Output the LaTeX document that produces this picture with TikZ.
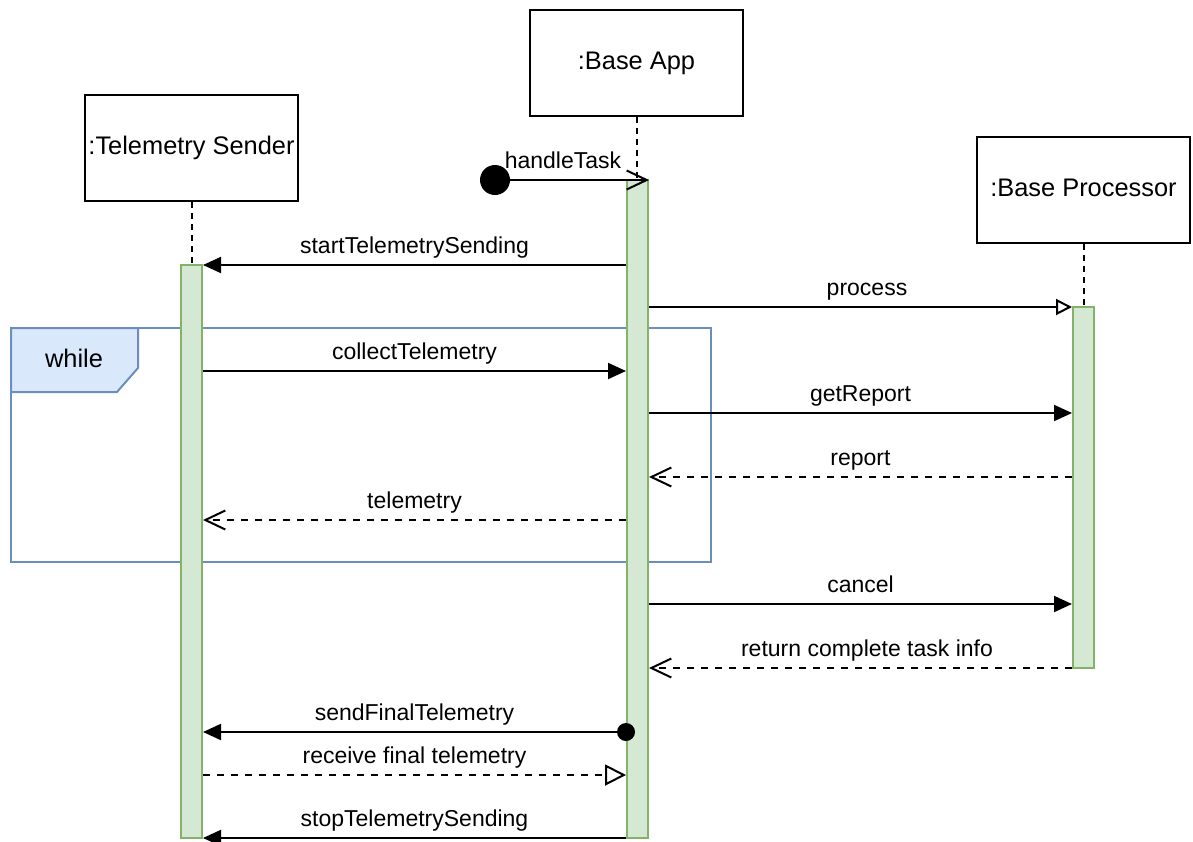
\documentclass[tikz,border=0pt]{standalone}
\usepackage{fontspec}
\setmainfont{Liberation Sans}
\usetikzlibrary{arrows.meta}
\definecolor{barfill}{HTML}{D5E8D4}
\definecolor{bardraw}{HTML}{82B366}
\definecolor{framedraw}{HTML}{6C8EBF}
\definecolor{framefill}{HTML}{DAE8FC}
\begin{document}
\begin{tikzpicture}[x=1pt,y=-1pt,
  actor/.style={draw, line width=2.2pt, minimum width=213pt, minimum height=106pt,
    inner sep=0pt, font=\fontsize{25.4}{30}\selectfont, text height=1.35em, text depth=0pt},
  actbar/.style={draw=bardraw, fill=barfill, line width=2pt, minimum width=21pt, inner sep=0pt},
  lifeline/.style={line width=2pt, dash pattern=on 6pt off 5pt},
  msg/.style={line width=2pt},
  reply/.style={line width=2pt, dash pattern=on 7pt off 7pt},
  filledtip/.style={-{Triangle[length=18pt,width=16pt]}},
  opentip/.style={-{Straight Barb[length=20pt,width=19pt,line width=2pt]}},
  hollowtip/.style={-{Triangle[length=#1,width=#1,fill=white,line width=2pt]}},
  lbl/.style={anchor=base, inner sep=0pt, font=\fontsize{23}{27}\selectfont},
]
\useasboundingbox (0,0) rectangle (1193,841);

% loop frame (behind everything else)
\node[draw=framedraw, line width=2pt, minimum width=700pt, minimum height=234pt,
      inner sep=0pt] (whileFrame) at (361,445) {};
\filldraw[draw=framedraw, fill=framefill, line width=2pt, line join=miter]
  (11,328) -- (138,328) -- (138,368) -- (117,392) -- (11,392) -- cycle;
\node[font=\fontsize{25.4}{30}\selectfont, text height=0.716em, text depth=0pt, inner sep=0pt]
  (whileLbl) at (74,364) {while};

% participants
\node[actor] (ts)   at (191.5,148) {:Telemetry Sender};
\node[actor] (app)  at (636.5,63)  {:Base App};
\node[actor] (proc) at (1083.5,190) {:Base Processor};

% activation bars
\node[actbar, minimum height=573pt] (tsBar)   at (191.5,551.5) {};
\node[actbar, minimum height=658pt] (appBar)  at (637.5,509) {};
\node[actbar, minimum height=361pt] (procBar) at (1083.5,487.5) {};

% lifelines
\draw[lifeline] (ts.south)   -- (ts.south |- tsBar.north);
\draw[lifeline] (app.south)  -- (app.south |- appBar.north);
\draw[lifeline] (proc.south) -- (proc.south |- procBar.north);

% message levels
\coordinate (y0) at (0,180);
\coordinate (y1) at (0,265);
\coordinate (y2) at (0,307);
\coordinate (y3) at (0,371);
\coordinate (y4) at (0,413);
\coordinate (y5) at (0,477);
\coordinate (y6) at (0,520);
\coordinate (y7) at (0,604);
\coordinate (y8) at (0,668);
\coordinate (y9) at (0,732);
\coordinate (y10) at (0,775);
\coordinate (y11) at (0,838);

% found message
\node[circle, fill=black, minimum size=30pt, inner sep=0pt] (start) at (495,180) {};
\draw[msg, opentip] (start.center) -- (appBar.east |- y0);
\node[lbl] (lHandle) at (563,168) {handleTask};

\draw[msg, filledtip] (appBar.west |- y1) -- (tsBar.east |- y1);
\node[lbl] (lStart) at (414.5,253) {startTelemetrySending};

\draw[msg, hollowtip=16pt] (appBar.east |- y2) -- (procBar.west |- y2);
\node[lbl] (lProcess) at (867,295) {process};

\draw[msg, filledtip] (tsBar.east |- y3) -- (appBar.west |- y3);
\node[lbl] (lCollect) at (414.5,359) {collectTelemetry};

\draw[msg, filledtip] (appBar.east |- y4) -- (procBar.west |- y4);
\node[lbl] (lGet) at (860.5,401) {getReport};

\draw[reply, opentip] (procBar.west |- y5) -- (appBar.east |- y5);
\node[lbl] (lReport) at (860.5,465) {report};

\draw[reply, opentip] (appBar.west |- y6) -- (tsBar.east |- y6);
\node[lbl] (lTele) at (414.5,508) {telemetry};

\draw[msg, filledtip] (appBar.east |- y7) -- (procBar.west |- y7);
\node[lbl] (lCancel) at (860.5,592) {cancel};

\draw[reply, opentip] (procBar.west |- y8) -- (appBar.east |- y8);
\node[lbl] (lReturn) at (867,656) {return complete task info};

\node[circle, fill=black, minimum size=18pt, inner sep=0pt] (finalDot) at (appBar.west |- y9) {};
\draw[msg, filledtip] (finalDot.center) -- (tsBar.east |- y9);
\node[lbl] (lFinal) at (414.5,720) {sendFinalTelemetry};

\draw[reply, hollowtip=21pt] (tsBar.east |- y10) -- (appBar.west |- y10);
\node[lbl] (lRecv) at (414.5,763) {receive final telemetry};

\draw[msg, filledtip] (appBar.west |- y11) -- (tsBar.east |- y11);
\node[lbl] (lStop) at (414.5,826) {stopTelemetrySending};
\end{tikzpicture}
\end{document}
